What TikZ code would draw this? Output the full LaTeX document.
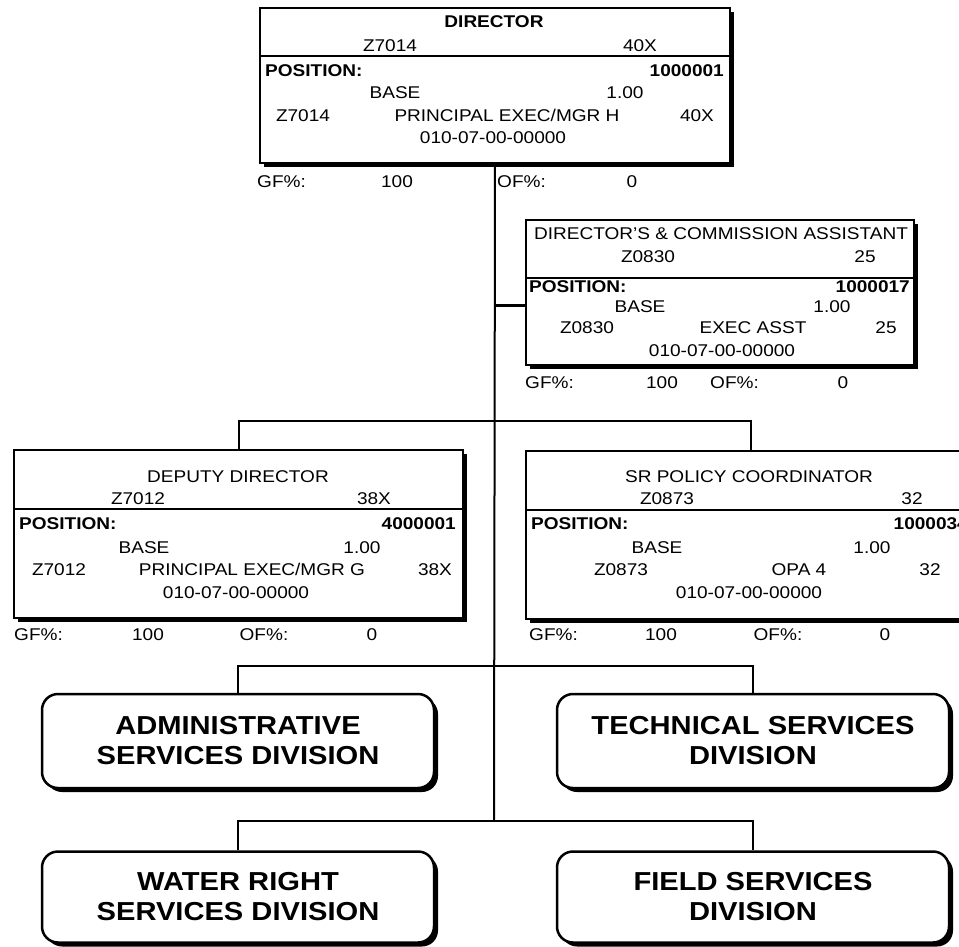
\documentclass[tikz,border=0pt]{standalone}
\usepackage{fontspec}
\setmainfont[FakeStretch=1.12]{Liberation Sans}
\usetikzlibrary{positioning,shadows}
\newcommand{\posfont}{\fontsize{17}{20}\selectfont}
\newcommand{\divfont}{\fontsize{26}{30}\selectfont\bfseries}
\tikzset{
	posbox/.style = {
			draw, line width=2pt, fill=white,
			anchor=north west, inner sep=0pt,
			general shadow={fill=black, shadow xshift=4pt, shadow yshift=-4pt},
		},
	divbox/.style = {
			draw, line width=2.5pt, fill=white, rounded corners=16pt,
			minimum width=392pt, align=center, font=\divfont,
			general shadow={fill=black, shadow xshift=4pt, shadow yshift=-4pt},
		},
	lbl/.style = {inner sep=0pt, font=\posfont, text height=12.2pt, text depth=0pt},
	blbl/.style = {lbl, font=\posfont\bfseries},
	link/.style = {line width=2pt},
}
\begin{document}
\begin{tikzpicture}[x=1pt,y=-1pt]
		\path[use as bounding box, fill=white] (0,0) rectangle (959,946);
		\clip (0,0) rectangle (959,946);

		\node[posbox, minimum width=470pt, minimum height=155pt] at (259,7) (dir) {};
		\node[posbox, minimum width=388pt, minimum height=145pt] at (525,219) (asst) {};
		\node[posbox, minimum width=449pt, minimum height=168pt] at (13,449) (dep) {};
		\node[posbox, minimum width=449pt, minimum height=168pt] at (525,450) (sr) {};
		\draw[line width=2pt] ([yshift=-49pt]dir.north west) -- ([yshift=-49pt]dir.north east);
		\draw[line width=2pt] ([yshift=-59pt]asst.north west) -- ([yshift=-59pt]asst.north east);
		\draw[line width=2pt] ([yshift=-60pt]dep.north west) -- ([yshift=-60pt]dep.north east);
		\draw[line width=2pt] ([yshift=-60pt]sr.north west) -- ([yshift=-60pt]sr.north east);

		\node[blbl] at (494,21) (dirtitle) {DIRECTOR};
		\node[lbl] at (390,45) (dircode) {Z7014};
		\node[lbl] at (640,45) (dirgrade) {40X};
		\node[blbl, anchor=west] at (265,70) (dirpos) {POSITION:};
		\node[blbl, anchor=east] at (724,70) (dirnum) {1000001};
		\node[lbl] at (395,92) (dirbase) {BASE};
		\node[lbl] at (625,92) (dirfte) {1.00};
		\node[lbl] at (303,115) (dircode2) {Z7014};
		\node[lbl] at (507,115) (dirclass) {PRINCIPAL EXEC/MGR H};
		\node[lbl] at (697,115) (dirgrade2) {40X};
		\node[lbl] at (493,137) (diracct) {010-07-00-00000};
		\node[lbl, anchor=west] at (257,181) (dirgf) {GF\%:};
		\node[lbl] at (397,181) (dirgfv) {100};
		\node[lbl, anchor=west] at (497,181) (dirof) {OF\%:};
		\node[lbl] at (632,181) (dirofv) {0};

		\node[lbl] at (721,233) (assttitle) {DIRECTOR'S \& COMMISSION ASSISTANT};
		\node[lbl] at (648,256) (asstcode) {Z0830};
		\node[lbl] at (865,256) (asstgrade) {25};
		\node[blbl, anchor=west] at (529,286) (asstpos) {POSITION:};
		\node[blbl, anchor=east] at (910,286) (asstnum) {1000017};
		\node[lbl] at (640,306) (asstbase) {BASE};
		\node[lbl] at (832,306) (asstfte) {1.00};
		\node[lbl] at (587,327) (asstcode2) {Z0830};
		\node[lbl] at (753,327) (asstclass) {EXEC ASST};
		\node[lbl] at (886,327) (asstgrade2) {25};
		\node[lbl] at (722,350) (asstacct) {010-07-00-00000};
		\node[lbl, anchor=west] at (525,382) (asstgf) {GF\%:};
		\node[lbl] at (662,382) (asstgfv) {100};
		\node[lbl, anchor=west] at (710,382) (asstof) {OF\%:};
		\node[lbl] at (843,382) (asstofv) {0};

		\node[lbl] at (238,476) (deptitle) {DEPUTY DIRECTOR};
		\node[lbl] at (138,498) (depcode) {Z7012};
		\node[lbl] at (374,498) (depgrade) {38X};
		\node[blbl, anchor=west] at (19,523) (deppos) {POSITION:};
		\node[blbl, anchor=east] at (456,523) (depnum) {4000001};
		\node[lbl] at (144,547) (depbase) {BASE};
		\node[lbl] at (362,547) (depfte) {1.00};
		\node[lbl] at (59,569) (depcode2) {Z7012};
		\node[lbl] at (252,569) (depclass) {PRINCIPAL EXEC/MGR G};
		\node[lbl] at (435,569) (depgrade2) {38X};
		\node[lbl] at (236,592) (depacct) {010-07-00-00000};
		\node[lbl, anchor=west] at (14,634) (depgf) {GF\%:};
		\node[lbl] at (148,634) (depgfv) {100};
		\node[lbl] at (264,634) (depof) {OF\%:};
		\node[lbl] at (372,634) (depofv) {0};

		\node[lbl] at (749,476) (srtitle) {SR POLICY COORDINATOR};
		\node[lbl] at (667,498) (srcode) {Z0873};
		\node[lbl] at (912,498) (srgrade) {32};
		\node[blbl, anchor=west] at (531,523) (srpos) {POSITION:};
		\node[blbl, anchor=east] at (968,523) (srnum) {1000034};
		\node[lbl] at (657,547) (srbase) {BASE};
		\node[lbl] at (872,547) (srfte) {1.00};
		\node[lbl] at (621,569) (srcode2) {Z0873};
		\node[lbl] at (799,569) (srclass) {OPA 4};
		\node[lbl] at (930,569) (srgrade2) {32};
		\node[lbl] at (749,592) (sracct) {010-07-00-00000};
		\node[lbl, anchor=west] at (529,634) (srgf) {GF\%:};
		\node[lbl] at (661,634) (srgfv) {100};
		\node[lbl] at (778,634) (srof) {OF\%:};
		\node[lbl] at (885,634) (srofv) {0};

		\node[divbox, minimum height=94pt] at (238,741) (adm) {ADMINISTRATIVE\\SERVICES DIVISION};
		\node[divbox, minimum height=94pt] at (753,741) (tech) {TECHNICAL SERVICES\\DIVISION};
		\node[divbox, minimum height=91pt] at (238,897) (water) {WATER RIGHT\\SERVICES DIVISION};
		\node[divbox, minimum height=91pt] at (753,897) (field) {FIELD SERVICES\\DIVISION};

		\coordinate (ja) at (494,305);
		\coordinate (jd) at (494,421);
		\coordinate (jv) at (494,666);
		\coordinate (jw) at (494,821);
		\draw[link] (dir.south) -- (jw);
		\draw[link, line width=3pt] (ja) -- (ja -| asst.west);
		\draw[link] (dep.north) |- (jd) -| (sr.north);
		\draw[link] (adm.north) |- (jv) -| (tech.north);
		\draw[link] (water.north) |- (jw) -| (field.north);
	\end{tikzpicture}
\end{document}
